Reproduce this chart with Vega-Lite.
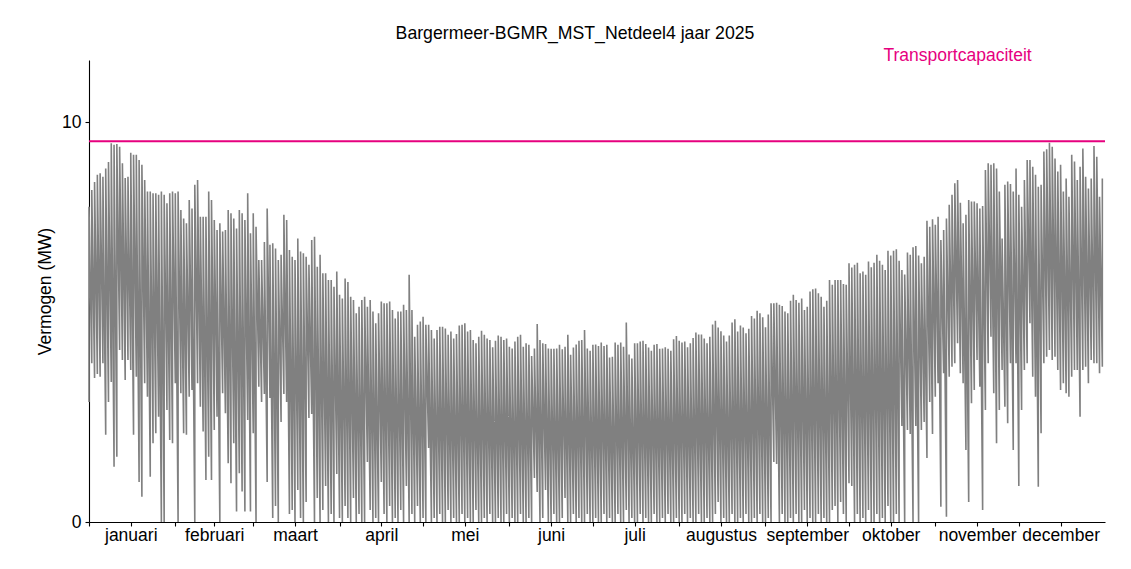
{
"$schema":"https://vega.github.io/schema/vega-lite/v6.json",
"width":1016,"height":462,
"autosize":{"type":"none"},
"padding":{"left":89,"top":60,"right":26,"bottom":47},
"background":"white",
"title":{"text":"Bargermeer-BGMR_MST_Netdeel4 jaar 2025","font":"Liberation Sans","fontSize":17.7,"fontWeight":"normal","color":"black","anchor":"middle","offset":5,"dx":-22},
"config":{"view":{"stroke":null},"font":"Liberation Sans","axis":{"grid":false,"domainColor":"black","tickColor":"black","labelColor":"black","titleColor":"black","labelFont":"Liberation Sans","titleFont":"Liberation Sans","labelFontSize":17.5,"titleFontSize":17.5,"titleFontWeight":"normal","domainWidth":1.1,"tickWidth":1.1,"tickSize":4}},
"layer":[
{"data":{"values":[
{"d":"2025-01-01","lo":3.0,"hi":7.88},{"d":"2025-01-02","lo":3.97,"hi":8.3},{"d":"2025-01-03","lo":3.6,"hi":8.5},{"d":"2025-01-04","lo":3.7,"hi":8.68},{"d":"2025-01-05","lo":3.63,"hi":8.72},{"d":"2025-01-06","lo":3.97,"hi":8.63},{"d":"2025-01-07","lo":2.18,"hi":8.84},{"d":"2025-01-08","lo":3.0,"hi":9.0},{"d":"2025-01-09","lo":3.5,"hi":9.47},{"d":"2025-01-10","lo":1.38,"hi":9.43},{"d":"2025-01-11","lo":1.63,"hi":9.45},{"d":"2025-01-12","lo":4.3,"hi":9.38},{"d":"2025-01-13","lo":4.05,"hi":8.97},{"d":"2025-01-14","lo":3.55,"hi":8.6},{"d":"2025-01-15","lo":4.05,"hi":8.63},{"d":"2025-01-16","lo":3.8,"hi":9.23},{"d":"2025-01-17","lo":2.18,"hi":9.18},{"d":"2025-01-18","lo":3.63,"hi":9.18},{"d":"2025-01-19","lo":1.0,"hi":9.05},{"d":"2025-01-20","lo":0.63,"hi":8.93},{"d":"2025-01-21","lo":3.47,"hi":8.55},{"d":"2025-01-22","lo":3.13,"hi":8.26},{"d":"2025-01-23","lo":1.13,"hi":8.26},{"d":"2025-01-24","lo":1.97,"hi":8.22},{"d":"2025-01-25","lo":2.22,"hi":8.22},{"d":"2025-01-26","lo":2.63,"hi":8.18},{"d":"2025-01-27","lo":0,"hi":8.26},{"d":"2025-01-28","lo":0,"hi":8.18},{"d":"2025-01-29","lo":2.8,"hi":7.97},{"d":"2025-01-30","lo":2.05,"hi":8.22},{"d":"2025-01-31","lo":1.97,"hi":8.26},
{"d":"2025-02-01","lo":3.47,"hi":8.22},{"d":"2025-02-02","lo":0,"hi":8.26},{"d":"2025-02-03","lo":3.22,"hi":7.8},{"d":"2025-02-04","lo":2.22,"hi":7.59},{"d":"2025-02-05","lo":2.18,"hi":7.47},{"d":"2025-02-06","lo":3.13,"hi":8.05},{"d":"2025-02-07","lo":3.3,"hi":7.84},{"d":"2025-02-08","lo":0,"hi":8.43},{"d":"2025-02-09","lo":3.47,"hi":8.55},{"d":"2025-02-10","lo":2.88,"hi":7.63},{"d":"2025-02-11","lo":2.26,"hi":7.63},{"d":"2025-02-12","lo":1.05,"hi":7.63},{"d":"2025-02-13","lo":1.63,"hi":8.26},{"d":"2025-02-14","lo":1.05,"hi":8.05},{"d":"2025-02-15","lo":2.3,"hi":7.55},{"d":"2025-02-16","lo":2.63,"hi":7.3},{"d":"2025-02-17","lo":0,"hi":7.47},{"d":"2025-02-18","lo":3.22,"hi":7.26},{"d":"2025-02-19","lo":2.72,"hi":7.3},{"d":"2025-02-20","lo":1.47,"hi":7.8},{"d":"2025-02-21","lo":0.97,"hi":7.72},{"d":"2025-02-22","lo":1.97,"hi":7.59},{"d":"2025-02-23","lo":0.26,"hi":7.34},{"d":"2025-02-24","lo":1.22,"hi":7.8},{"d":"2025-02-25","lo":0.76,"hi":7.72},{"d":"2025-02-26","lo":0.26,"hi":7.55},{"d":"2025-02-27","lo":2.55,"hi":8.22},{"d":"2025-02-28","lo":0.26,"hi":7.22},
{"d":"2025-03-01","lo":2.22,"hi":7.72},{"d":"2025-03-02","lo":0,"hi":7.38},{"d":"2025-03-03","lo":3.38,"hi":6.55},{"d":"2025-03-04","lo":3.0,"hi":6.55},{"d":"2025-03-05","lo":3.2,"hi":7.0},{"d":"2025-03-06","lo":1.0,"hi":7.84},{"d":"2025-03-07","lo":3.1,"hi":6.93},{"d":"2025-03-08","lo":0.1,"hi":6.97},{"d":"2025-03-09","lo":0.4,"hi":6.84},{"d":"2025-03-10","lo":0,"hi":6.55},{"d":"2025-03-11","lo":2.5,"hi":6.68},{"d":"2025-03-12","lo":3.2,"hi":7.68},{"d":"2025-03-13","lo":3.0,"hi":7.55},{"d":"2025-03-14","lo":0.2,"hi":6.8},{"d":"2025-03-15","lo":0.3,"hi":6.63},{"d":"2025-03-16","lo":0,"hi":6.55},{"d":"2025-03-17","lo":0.8,"hi":7.09},{"d":"2025-03-18","lo":0.1,"hi":6.76},{"d":"2025-03-19","lo":0,"hi":6.72},{"d":"2025-03-20","lo":0.5,"hi":6.63},{"d":"2025-03-21","lo":2.6,"hi":6.43},{"d":"2025-03-22","lo":2.7,"hi":7.05},{"d":"2025-03-23","lo":0,"hi":7.13},{"d":"2025-03-24","lo":0.6,"hi":6.38},{"d":"2025-03-25","lo":0,"hi":6.68},{"d":"2025-03-26","lo":0.3,"hi":6.22},{"d":"2025-03-27","lo":0.9,"hi":6.22},{"d":"2025-03-28","lo":0,"hi":6.05},{"d":"2025-03-29","lo":0.2,"hi":6.05},{"d":"2025-03-30","lo":0,"hi":5.88},{"d":"2025-03-31","lo":1.2,"hi":6.26},
{"d":"2025-04-01","lo":0.1,"hi":5.68},{"d":"2025-04-02","lo":0,"hi":5.59},{"d":"2025-04-03","lo":0.4,"hi":6.09},{"d":"2025-04-04","lo":0.1,"hi":6.0},{"d":"2025-04-05","lo":0,"hi":5.63},{"d":"2025-04-06","lo":0.6,"hi":5.55},{"d":"2025-04-07","lo":0,"hi":5.22},{"d":"2025-04-08","lo":0.2,"hi":5.38},{"d":"2025-04-09","lo":0,"hi":5.55},{"d":"2025-04-10","lo":0,"hi":5.63},{"d":"2025-04-11","lo":1.5,"hi":5.38},{"d":"2025-04-12","lo":0.3,"hi":5.55},{"d":"2025-04-13","lo":0,"hi":5.26},{"d":"2025-04-14","lo":0.1,"hi":4.97},{"d":"2025-04-15","lo":0,"hi":5.22},{"d":"2025-04-16","lo":1.0,"hi":5.51},{"d":"2025-04-17","lo":0.2,"hi":5.47},{"d":"2025-04-18","lo":0,"hi":5.47},{"d":"2025-04-19","lo":0.4,"hi":5.51},{"d":"2025-04-20","lo":0,"hi":5.3},{"d":"2025-04-21","lo":0.1,"hi":5.09},{"d":"2025-04-22","lo":0,"hi":5.26},{"d":"2025-04-23","lo":0.3,"hi":5.26},{"d":"2025-04-24","lo":0,"hi":5.43},{"d":"2025-04-25","lo":0.9,"hi":5.3},{"d":"2025-04-26","lo":0,"hi":6.18},{"d":"2025-04-27","lo":0.2,"hi":5.3},{"d":"2025-04-28","lo":0,"hi":4.63},{"d":"2025-04-29","lo":0.4,"hi":4.93},{"d":"2025-04-30","lo":0,"hi":5.01},
{"d":"2025-05-01","lo":0.1,"hi":5.13},{"d":"2025-05-02","lo":0,"hi":4.93},{"d":"2025-05-03","lo":1.85,"hi":4.93},{"d":"2025-05-04","lo":0,"hi":4.8},{"d":"2025-05-05","lo":0.1,"hi":4.59},{"d":"2025-05-06","lo":0,"hi":4.8},{"d":"2025-05-07","lo":0.2,"hi":4.88},{"d":"2025-05-08","lo":0,"hi":4.88},{"d":"2025-05-09","lo":0,"hi":4.84},{"d":"2025-05-10","lo":0.3,"hi":4.68},{"d":"2025-05-11","lo":0,"hi":4.76},{"d":"2025-05-12","lo":0.1,"hi":4.59},{"d":"2025-05-13","lo":0,"hi":4.7},{"d":"2025-05-14","lo":0,"hi":4.91},{"d":"2025-05-15","lo":0.2,"hi":4.93},{"d":"2025-05-16","lo":0,"hi":4.97},{"d":"2025-05-17","lo":0.1,"hi":4.76},{"d":"2025-05-18","lo":0,"hi":4.8},{"d":"2025-05-19","lo":0,"hi":4.55},{"d":"2025-05-20","lo":0.3,"hi":4.47},{"d":"2025-05-21","lo":0,"hi":4.63},{"d":"2025-05-22","lo":0,"hi":4.78},{"d":"2025-05-23","lo":0.1,"hi":4.68},{"d":"2025-05-24","lo":0,"hi":4.59},{"d":"2025-05-25","lo":0.2,"hi":4.55},{"d":"2025-05-26","lo":0,"hi":4.37},{"d":"2025-05-27","lo":0,"hi":4.53},{"d":"2025-05-28","lo":0.1,"hi":4.66},{"d":"2025-05-29","lo":0,"hi":4.63},{"d":"2025-05-30","lo":0,"hi":4.55},{"d":"2025-05-31","lo":0.2,"hi":4.59},
{"d":"2025-06-01","lo":0,"hi":4.38},{"d":"2025-06-02","lo":0.1,"hi":4.34},{"d":"2025-06-03","lo":0,"hi":4.51},{"d":"2025-06-04","lo":0,"hi":4.63},{"d":"2025-06-05","lo":0.2,"hi":4.68},{"d":"2025-06-06","lo":0,"hi":4.38},{"d":"2025-06-07","lo":0,"hi":4.47},{"d":"2025-06-08","lo":0.1,"hi":4.43},{"d":"2025-06-09","lo":0,"hi":4.15},{"d":"2025-06-10","lo":1.1,"hi":4.34},{"d":"2025-06-11","lo":0.75,"hi":4.95},{"d":"2025-06-12","lo":0,"hi":4.55},{"d":"2025-06-13","lo":0.1,"hi":4.47},{"d":"2025-06-14","lo":0.8,"hi":4.45},{"d":"2025-06-15","lo":0,"hi":4.34},{"d":"2025-06-16","lo":0,"hi":4.33},{"d":"2025-06-17","lo":0.2,"hi":4.33},{"d":"2025-06-18","lo":0,"hi":4.34},{"d":"2025-06-19","lo":0,"hi":4.43},{"d":"2025-06-20","lo":0.1,"hi":4.32},{"d":"2025-06-21","lo":0.6,"hi":4.38},{"d":"2025-06-22","lo":0,"hi":4.68},{"d":"2025-06-23","lo":0,"hi":4.18},{"d":"2025-06-24","lo":0.2,"hi":4.36},{"d":"2025-06-25","lo":0,"hi":4.44},{"d":"2025-06-26","lo":0.1,"hi":4.53},{"d":"2025-06-27","lo":0,"hi":4.55},{"d":"2025-06-28","lo":0,"hi":4.8},{"d":"2025-06-29","lo":0.2,"hi":4.34},{"d":"2025-06-30","lo":0,"hi":4.28},
{"d":"2025-07-01","lo":0,"hi":4.43},{"d":"2025-07-02","lo":0.1,"hi":4.44},{"d":"2025-07-03","lo":0,"hi":4.4},{"d":"2025-07-04","lo":0,"hi":4.49},{"d":"2025-07-05","lo":0.2,"hi":4.4},{"d":"2025-07-06","lo":0,"hi":4.43},{"d":"2025-07-07","lo":0.1,"hi":4.11},{"d":"2025-07-08","lo":0,"hi":4.13},{"d":"2025-07-09","lo":0,"hi":4.49},{"d":"2025-07-10","lo":0.2,"hi":4.43},{"d":"2025-07-11","lo":0,"hi":4.49},{"d":"2025-07-12","lo":0,"hi":4.38},{"d":"2025-07-13","lo":0.3,"hi":4.99},{"d":"2025-07-14","lo":0,"hi":4.19},{"d":"2025-07-15","lo":0.1,"hi":4.09},{"d":"2025-07-16","lo":0,"hi":4.47},{"d":"2025-07-17","lo":0,"hi":4.47},{"d":"2025-07-18","lo":0.2,"hi":4.51},{"d":"2025-07-19","lo":0,"hi":4.53},{"d":"2025-07-20","lo":0.1,"hi":4.45},{"d":"2025-07-21","lo":0,"hi":4.36},{"d":"2025-07-22","lo":0,"hi":4.28},{"d":"2025-07-23","lo":0.2,"hi":4.43},{"d":"2025-07-24","lo":0,"hi":4.45},{"d":"2025-07-25","lo":0,"hi":4.33},{"d":"2025-07-26","lo":0.1,"hi":4.34},{"d":"2025-07-27","lo":0,"hi":4.37},{"d":"2025-07-28","lo":0.2,"hi":4.33},{"d":"2025-07-29","lo":0,"hi":4.28},{"d":"2025-07-30","lo":0,"hi":4.57},{"d":"2025-07-31","lo":0.1,"hi":4.65},
{"d":"2025-08-01","lo":0,"hi":4.53},{"d":"2025-08-02","lo":0,"hi":4.49},{"d":"2025-08-03","lo":0.2,"hi":4.51},{"d":"2025-08-04","lo":0,"hi":4.37},{"d":"2025-08-05","lo":0.1,"hi":4.47},{"d":"2025-08-06","lo":0,"hi":4.6},{"d":"2025-08-07","lo":0,"hi":4.74},{"d":"2025-08-08","lo":0.2,"hi":4.69},{"d":"2025-08-09","lo":0,"hi":4.69},{"d":"2025-08-10","lo":0,"hi":4.59},{"d":"2025-08-11","lo":0.1,"hi":4.47},{"d":"2025-08-12","lo":0,"hi":4.63},{"d":"2025-08-13","lo":0,"hi":4.94},{"d":"2025-08-14","lo":0.2,"hi":5.03},{"d":"2025-08-15","lo":0.5,"hi":4.86},{"d":"2025-08-16","lo":0,"hi":4.77},{"d":"2025-08-17","lo":0.1,"hi":4.66},{"d":"2025-08-18","lo":0,"hi":4.51},{"d":"2025-08-19","lo":0,"hi":4.66},{"d":"2025-08-20","lo":0.2,"hi":4.99},{"d":"2025-08-21","lo":0,"hi":5.07},{"d":"2025-08-22","lo":0,"hi":4.76},{"d":"2025-08-23","lo":0.1,"hi":4.91},{"d":"2025-08-24","lo":0,"hi":4.86},{"d":"2025-08-25","lo":0.2,"hi":4.72},{"d":"2025-08-26","lo":0,"hi":4.83},{"d":"2025-08-27","lo":0,"hi":5.15},{"d":"2025-08-28","lo":0.1,"hi":5.09},{"d":"2025-08-29","lo":0,"hi":5.28},{"d":"2025-08-30","lo":0.2,"hi":5.22},{"d":"2025-08-31","lo":0,"hi":5.12},
{"d":"2025-09-01","lo":0,"hi":4.87},{"d":"2025-09-02","lo":0.1,"hi":5.19},{"d":"2025-09-03","lo":0,"hi":5.47},{"d":"2025-09-04","lo":1.5,"hi":5.47},{"d":"2025-09-05","lo":1.45,"hi":5.48},{"d":"2025-09-06","lo":0,"hi":5.43},{"d":"2025-09-07","lo":0.2,"hi":5.4},{"d":"2025-09-08","lo":0,"hi":5.26},{"d":"2025-09-09","lo":0,"hi":5.22},{"d":"2025-09-10","lo":0.1,"hi":5.53},{"d":"2025-09-11","lo":0,"hi":5.68},{"d":"2025-09-12","lo":0.2,"hi":5.55},{"d":"2025-09-13","lo":0,"hi":5.48},{"d":"2025-09-14","lo":0,"hi":5.59},{"d":"2025-09-15","lo":0.3,"hi":5.3},{"d":"2025-09-16","lo":0,"hi":5.38},{"d":"2025-09-17","lo":0.1,"hi":5.76},{"d":"2025-09-18","lo":0,"hi":5.82},{"d":"2025-09-19","lo":0,"hi":5.84},{"d":"2025-09-20","lo":0.2,"hi":5.72},{"d":"2025-09-21","lo":0,"hi":5.63},{"d":"2025-09-22","lo":0.1,"hi":5.38},{"d":"2025-09-23","lo":0,"hi":5.53},{"d":"2025-09-24","lo":0,"hi":6.05},{"d":"2025-09-25","lo":0.3,"hi":5.93},{"d":"2025-09-26","lo":0.4,"hi":6.05},{"d":"2025-09-27","lo":0,"hi":6.05},{"d":"2025-09-28","lo":0.5,"hi":6.05},{"d":"2025-09-29","lo":0.2,"hi":5.95},{"d":"2025-09-30","lo":0,"hi":5.93},
{"d":"2025-10-01","lo":0.97,"hi":6.47},{"d":"2025-10-02","lo":0.9,"hi":6.36},{"d":"2025-10-03","lo":0,"hi":6.43},{"d":"2025-10-04","lo":0.2,"hi":6.48},{"d":"2025-10-05","lo":0,"hi":6.22},{"d":"2025-10-06","lo":0.1,"hi":6.26},{"d":"2025-10-07","lo":0,"hi":6.18},{"d":"2025-10-08","lo":0.3,"hi":6.51},{"d":"2025-10-09","lo":0,"hi":6.37},{"d":"2025-10-10","lo":0,"hi":6.48},{"d":"2025-10-11","lo":0.2,"hi":6.68},{"d":"2025-10-12","lo":0,"hi":6.53},{"d":"2025-10-13","lo":0.1,"hi":6.43},{"d":"2025-10-14","lo":0,"hi":6.3},{"d":"2025-10-15","lo":0.4,"hi":6.78},{"d":"2025-10-16","lo":0,"hi":6.66},{"d":"2025-10-17","lo":0,"hi":6.78},{"d":"2025-10-18","lo":0.2,"hi":6.82},{"d":"2025-10-19","lo":0,"hi":6.53},{"d":"2025-10-20","lo":2.4,"hi":6.3},{"d":"2025-10-21","lo":0,"hi":6.19},{"d":"2025-10-22","lo":2.3,"hi":6.74},{"d":"2025-10-23","lo":2.2,"hi":6.68},{"d":"2025-10-24","lo":0,"hi":6.87},{"d":"2025-10-25","lo":2.4,"hi":6.9},{"d":"2025-10-26","lo":0,"hi":6.66},{"d":"2025-10-27","lo":2.3,"hi":6.47},{"d":"2025-10-28","lo":2.5,"hi":6.63},{"d":"2025-10-29","lo":1.6,"hi":7.53},{"d":"2025-10-30","lo":3.0,"hi":7.38},{"d":"2025-10-31","lo":2.2,"hi":7.57},
{"d":"2025-11-01","lo":3.13,"hi":7.43},{"d":"2025-11-02","lo":3.47,"hi":7.63},{"d":"2025-11-03","lo":0.38,"hi":7.05},{"d":"2025-11-04","lo":3.72,"hi":7.3},{"d":"2025-11-05","lo":0.13,"hi":7.59},{"d":"2025-11-06","lo":3.63,"hi":7.93},{"d":"2025-11-07","lo":3.88,"hi":8.18},{"d":"2025-11-08","lo":3.97,"hi":8.47},{"d":"2025-11-09","lo":4.47,"hi":8.55},{"d":"2025-11-10","lo":3.72,"hi":7.98},{"d":"2025-11-11","lo":3.47,"hi":7.47},{"d":"2025-11-12","lo":1.8,"hi":7.68},{"d":"2025-11-13","lo":0.5,"hi":8.05},{"d":"2025-11-14","lo":2.97,"hi":8.01},{"d":"2025-11-15","lo":3.3,"hi":8.01},{"d":"2025-11-16","lo":4.05,"hi":7.97},{"d":"2025-11-17","lo":3.38,"hi":7.84},{"d":"2025-11-18","lo":0.3,"hi":7.9},{"d":"2025-11-19","lo":2.8,"hi":8.8},{"d":"2025-11-20","lo":3.97,"hi":8.97},{"d":"2025-11-21","lo":4.63,"hi":8.93},{"d":"2025-11-22","lo":3.22,"hi":8.97},{"d":"2025-11-23","lo":1.97,"hi":8.84},{"d":"2025-11-24","lo":2.8,"hi":8.26},{"d":"2025-11-25","lo":3.8,"hi":7.09},{"d":"2025-11-26","lo":2.88,"hi":8.43},{"d":"2025-11-27","lo":2.47,"hi":8.51},{"d":"2025-11-28","lo":3.97,"hi":8.45},{"d":"2025-11-29","lo":1.8,"hi":8.26},{"d":"2025-11-30","lo":3.97,"hi":8.84},
{"d":"2025-12-01","lo":0.9,"hi":8.18},{"d":"2025-12-02","lo":2.8,"hi":7.88},{"d":"2025-12-03","lo":3.8,"hi":8.55},{"d":"2025-12-04","lo":3.97,"hi":9.05},{"d":"2025-12-05","lo":4.97,"hi":9.05},{"d":"2025-12-06","lo":3.63,"hi":8.88},{"d":"2025-12-07","lo":3.13,"hi":8.68},{"d":"2025-12-08","lo":0.88,"hi":8.38},{"d":"2025-12-09","lo":2.22,"hi":8.43},{"d":"2025-12-10","lo":3.97,"hi":9.26},{"d":"2025-12-11","lo":4.13,"hi":9.32},{"d":"2025-12-12","lo":4.3,"hi":9.48},{"d":"2025-12-13","lo":4.05,"hi":9.38},{"d":"2025-12-14","lo":4.13,"hi":9.09},{"d":"2025-12-15","lo":3.8,"hi":8.76},{"d":"2025-12-16","lo":3.3,"hi":8.93},{"d":"2025-12-17","lo":3.47,"hi":8.26},{"d":"2025-12-18","lo":3.22,"hi":8.59},{"d":"2025-12-19","lo":3.13,"hi":8.13},{"d":"2025-12-20","lo":3.63,"hi":9.18},{"d":"2025-12-21","lo":3.8,"hi":9.01},{"d":"2025-12-22","lo":3.8,"hi":8.55},{"d":"2025-12-23","lo":2.63,"hi":8.88},{"d":"2025-12-24","lo":3.8,"hi":9.34},{"d":"2025-12-25","lo":3.88,"hi":8.63},{"d":"2025-12-26","lo":3.47,"hi":8.34},{"d":"2025-12-27","lo":4.05,"hi":8.59},{"d":"2025-12-28","lo":3.97,"hi":9.4},{"d":"2025-12-29","lo":3.97,"hi":9.13},{"d":"2025-12-30","lo":3.72,"hi":8.13},{"d":"2025-12-31","lo":3.88,"hi":8.59}
]},
"transform":[{"fold":["lo","hi"],"as":["k","v"]}],
"mark":{"type":"line","color":"#808080","strokeWidth":1.6},
"encoding":{
"x":{"field":"d","type":"temporal","scale":{"type":"utc","domain":[{"year":2025,"month":1,"date":1,"utc":true},{"year":2025,"month":12,"date":31,"hours":23,"utc":true}]},
"axis":{"title":null,"tickSize":4,"labelPadding":0,"labelOverlap":false,"labelFlush":false,"labelBound":false,
"values":[{"year":2025,"month":1,"date":1,"utc":true},{"year":2025,"month":1,"date":16,"utc":true},{"year":2025,"month":2,"date":1,"utc":true},{"year":2025,"month":2,"date":15,"utc":true},{"year":2025,"month":3,"date":1,"utc":true},{"year":2025,"month":3,"date":16,"utc":true},{"year":2025,"month":4,"date":1,"utc":true},{"year":2025,"month":4,"date":16,"utc":true},{"year":2025,"month":5,"date":1,"utc":true},{"year":2025,"month":5,"date":16,"utc":true},{"year":2025,"month":6,"date":1,"utc":true},{"year":2025,"month":6,"date":16,"utc":true},{"year":2025,"month":7,"date":1,"utc":true},{"year":2025,"month":7,"date":16,"utc":true},{"year":2025,"month":8,"date":1,"utc":true},{"year":2025,"month":8,"date":16,"utc":true},{"year":2025,"month":9,"date":1,"utc":true},{"year":2025,"month":9,"date":16,"utc":true},{"year":2025,"month":10,"date":1,"utc":true},{"year":2025,"month":10,"date":16,"utc":true},{"year":2025,"month":11,"date":1,"utc":true},{"year":2025,"month":11,"date":16,"utc":true},{"year":2025,"month":12,"date":1,"utc":true},{"year":2025,"month":12,"date":16,"utc":true}],
"labelExpr":"utcdate(datum.value) == 1 ? '' : ['januari','februari','maart','april','mei','juni','juli','augustus','september','oktober','november','december'][utcmonth(datum.value)]"}},
"y":{"field":"v","type":"quantitative","scale":{"domain":[0,11.55],"nice":false,"zero":true},"axis":{"values":[0,10],"title":"Vermogen (MW)","tickSize":4,"labelPadding":4,"titlePadding":7}},
"order":[{"field":"d","type":"temporal"},{"field":"k","sort":"descending"}]
}},
{"data":{"values":[{"capaciteit":9.52}]},
"mark":{"type":"rule","color":"#e6007e","strokeWidth":2},
"encoding":{"y":{"field":"capaciteit","type":"quantitative"}}},
{"data":{"values":[{"d":"2025-11-09","y":11.52,"label":"Transportcapaciteit"}]},
"mark":{"type":"text","color":"#e6007e","fontSize":17.5,"font":"Liberation Sans","align":"center","baseline":"alphabetic"},
"encoding":{"x":{"field":"d","type":"temporal"},"y":{"field":"y","type":"quantitative"},"text":{"field":"label"}}}
]
}
